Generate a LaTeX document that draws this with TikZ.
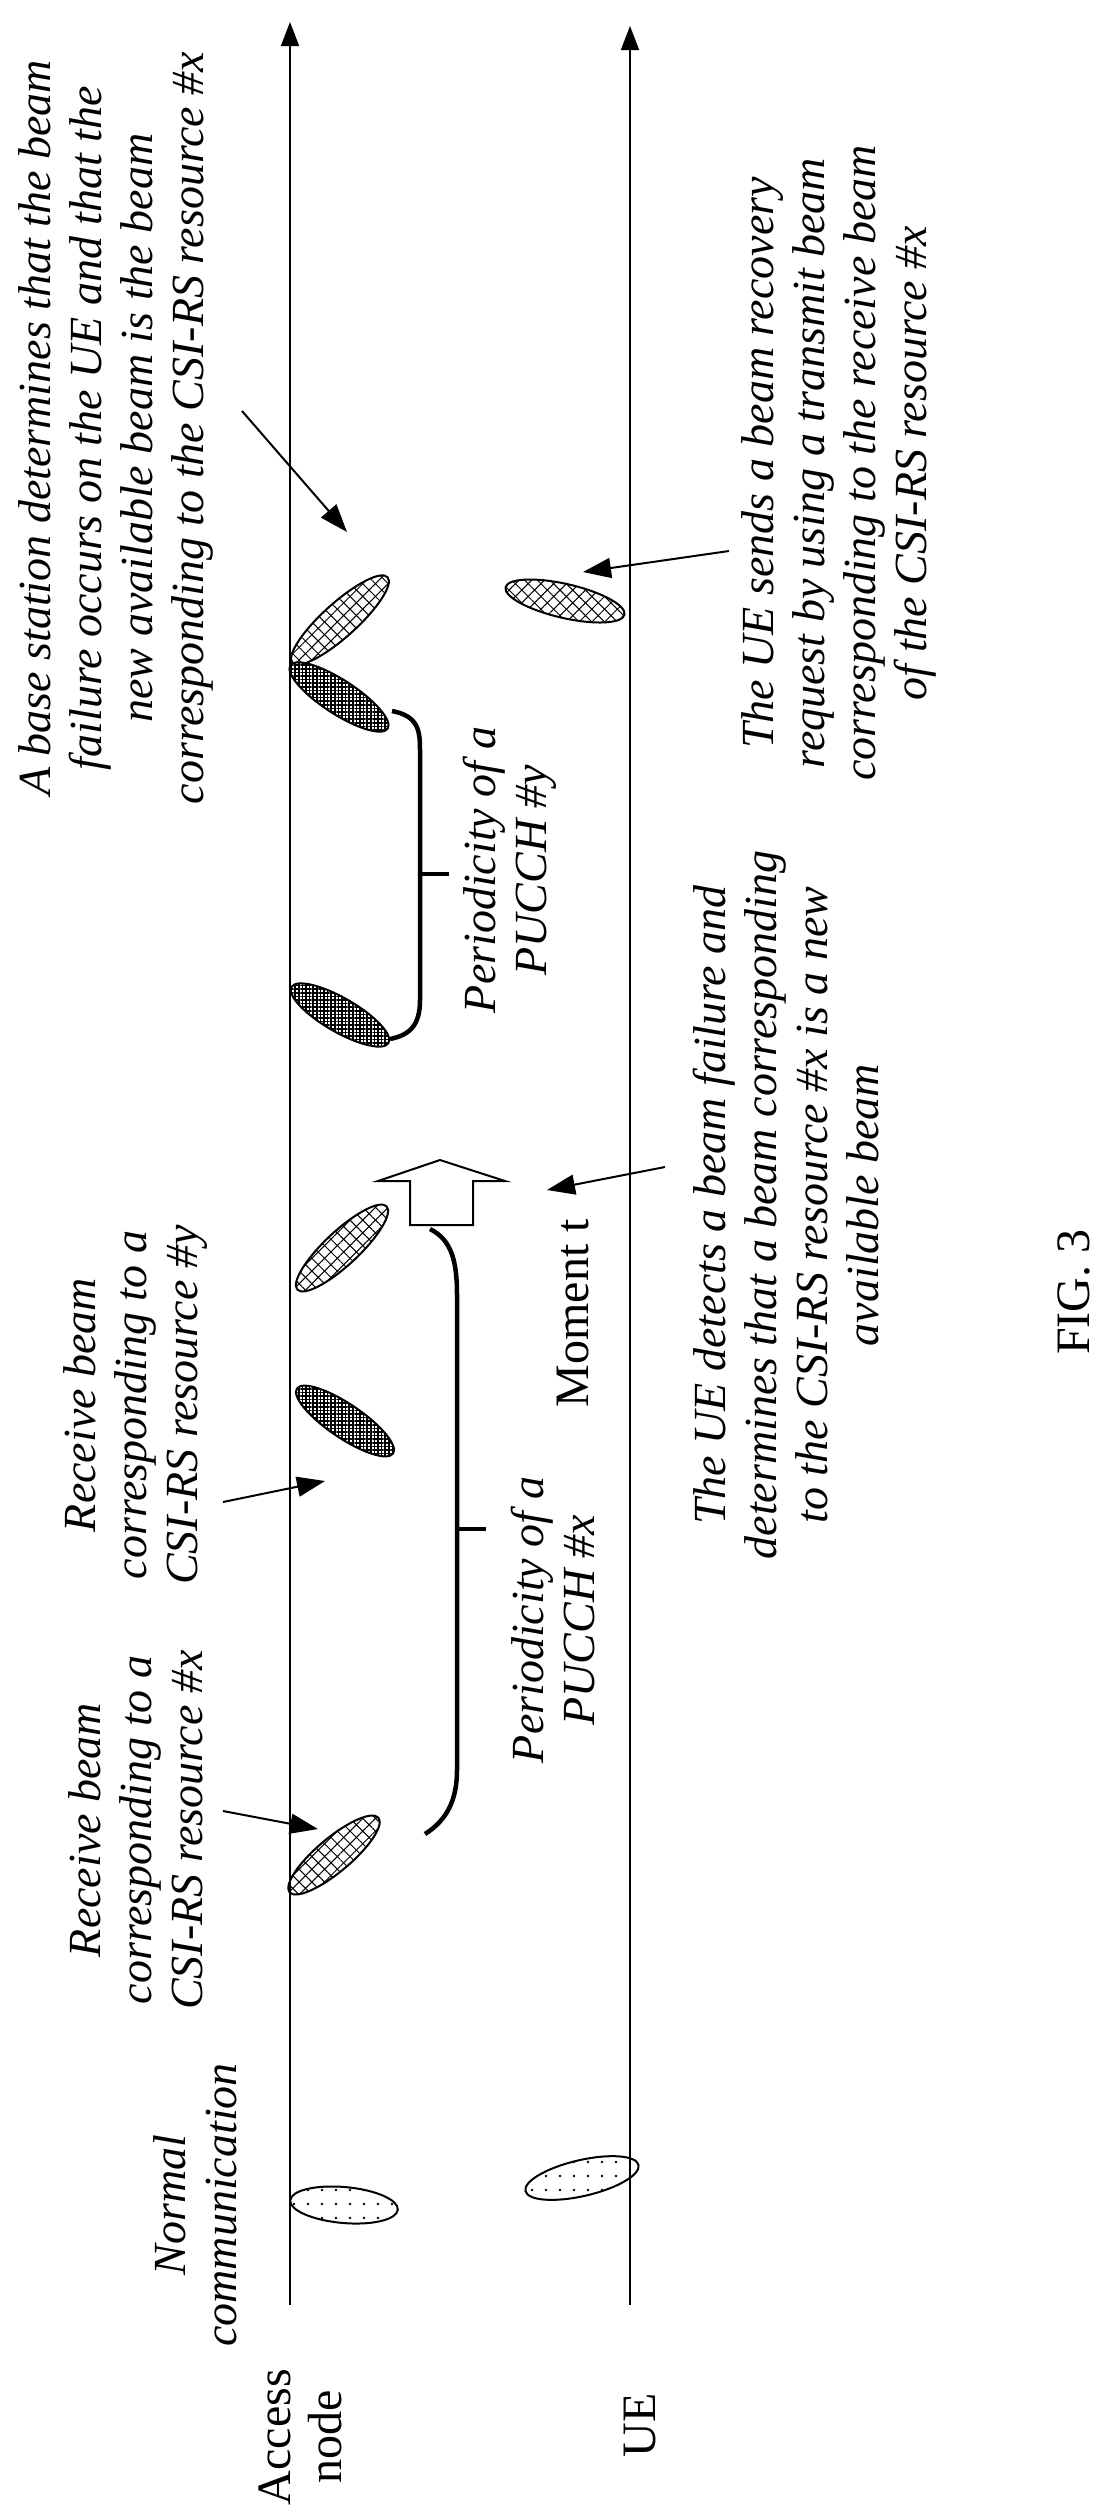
\documentclass[tikz,border=0pt]{standalone}
\usepackage{fontspec}
\setmainfont{Liberation Serif}
\usetikzlibrary{arrows.meta,patterns,patterns.meta}
\begin{document}
\begin{tikzpicture}[x=1pt,y=-1pt,
  lbl/.style={rotate=90,align=center,font=\fontsize{46}{51}\selectfont\itshape,inner sep=0pt},
  up/.style={rotate=90,align=center,font=\fontsize{48}{51}\selectfont,inner sep=0pt},
  axis/.style={line width=1.6pt,-{Triangle[length=24pt,width=18pt]}},
  ptr/.style={line width=2pt,-{Triangle[length=28pt,width=20pt]}},
  brace/.style={line width=4.5pt},
  lightx/.style={pattern={Lines[angle=45,distance=9pt,line width=1pt]}},
  lighty/.style={pattern={Lines[angle=-45,distance=9pt,line width=1pt]}},
  darkx/.style={pattern={Lines[angle=0,distance=3.6pt,line width=1.5pt]}},
  darky/.style={pattern={Lines[angle=90,distance=3.6pt,line width=1.5pt]}},
  dotp/.style={pattern={Dots[distance=14pt,radius=1.4pt]}},
  eo/.style={line width=2pt}]
\useasboundingbox[fill=white] (0,0) rectangle (1113,2512);
\newcommand\lightbeam[4]{\begin{scope}[shift={(#1,#2)},rotate=-#4]
 \fill[lightx] (0,0) ellipse [x radius=#3, y radius=17];
 \fill[lighty] (0,0) ellipse [x radius=#3, y radius=17];
 \draw[eo] (0,0) ellipse [x radius=#3, y radius=17];\end{scope}}
\newcommand\darkbeam[4]{\begin{scope}[shift={(#1,#2)},rotate=-#4]
 \fill[white] (0,0) ellipse [x radius=#3, y radius=17];
 \fill[darkx] (0,0) ellipse [x radius=#3, y radius=17];
 \fill[darky] (0,0) ellipse [x radius=#3, y radius=17];
 \draw[eo] (0,0) ellipse [x radius=#3, y radius=17];\end{scope}}
\newcommand\dotbeam[4]{\begin{scope}[shift={(#1,#2)},rotate=-#4]
 \fill[dotp] (0,0) ellipse [x radius=#3, y radius=18];
 \draw[eo] (0,0) ellipse [x radius=#3, y radius=18];\end{scope}}

% axes
\coordinate (a0) at (290,2305); \coordinate (a1) at (290,22);
\coordinate (u0) at (630,2305); \coordinate (u1) at (630,26);
\draw[axis] (a0) -- (a1);
\draw[axis] (u0) -- (u1);
\node[up] (lacc) at (300,2437) {Access\\node};
\node[up] (lue) at (640,2425) {UE};

% beams
\dotbeam{344}{2205}{54}{5}
\dotbeam{582}{2178}{58}{-13}
\lightbeam{334}{1855}{58}{-40}
\darkbeam{345}{1421}{58}{34}
\lightbeam{342}{1248}{61}{-43}
\darkbeam{340}{1015}{56}{30}
\lightbeam{340}{620}{64}{-42}
\darkbeam{339}{697}{58}{33}
\lightbeam{565}{601}{61}{13}

% brackets
\draw[brace] (392,711) .. controls (418,716) and (420,730) .. (420,750) -- (420,1000) .. controls (420,1025) and (410,1035) .. (390,1039);
\draw[brace] (420,874) -- (449,874);
\draw[brace] (430,1229) .. controls (452,1240) and (457,1262) .. (457,1295) -- (457,1770) .. controls (457,1800) and (447,1820) .. (425,1834);
\draw[brace] (457,1529) -- (486,1529);

% big arrow
\draw[line width=2pt,fill=white] (440,1160) -- (505,1181) -- (473,1181) -- (473,1225) -- (410,1225) -- (410,1181) -- (378,1181) -- cycle;

% texts
\node[lbl] (tbs) at (116,428) {A base station determines that the beam\\failure occurs on the UE and that the\\new available beam is the beam\\corresponding to the CSI-RS resource \#x};
\node[lbl] (tue) at (839,463) {The UE sends a beam recovery\\request by using a transmit beam\\corresponding to the receive beam\\of the CSI-RS resource \#x};
\node[lbl] (tdet) at (786,1205) {The UE detects a beam failure and\\determines that a beam corresponding\\to the CSI-RS resource \#x is a new\\available beam};
\node[lbl] (tpy) at (510,870) {Periodicity of a\\PUCCH \#y};
\node[lbl] (tpx) at (553,1620) {Periodicity of a\\PUCCH \#x};
\node[up] (tmom) at (573,1313) {Moment t};
\node[lbl] (try) at (136,1405) {Receive beam\\corresponding to a\\CSI-RS resource \#y};
\node[lbl] (trx) at (136,1830) {Receive beam\\corresponding to a\\CSI-RS resource \#x};
\node[lbl] (tnc) at (195,2205) {Normal\\communication};
\node[up] (tfig) at (1074,1292) {FIG. 3};

% pointer arrows
\coordinate (p1s) at (242,411); \coordinate (p1e) at (347,532);
\coordinate (p2s) at (729,551); \coordinate (p2e) at (583,572);
\coordinate (p3s) at (223,1502); \coordinate (p3e) at (325,1481);
\coordinate (p4s) at (223,1811); \coordinate (p4e) at (318,1829);
\coordinate (p5s) at (665,1167); \coordinate (p5e) at (547,1190);
\draw[ptr] (p1s) -- (p1e);
\draw[ptr] (p2s) -- (p2e);
\draw[ptr] (p3s) -- (p3e);
\draw[ptr] (p4s) -- (p4e);
\draw[ptr] (p5s) -- (p5e);
\end{tikzpicture}
\end{document}
